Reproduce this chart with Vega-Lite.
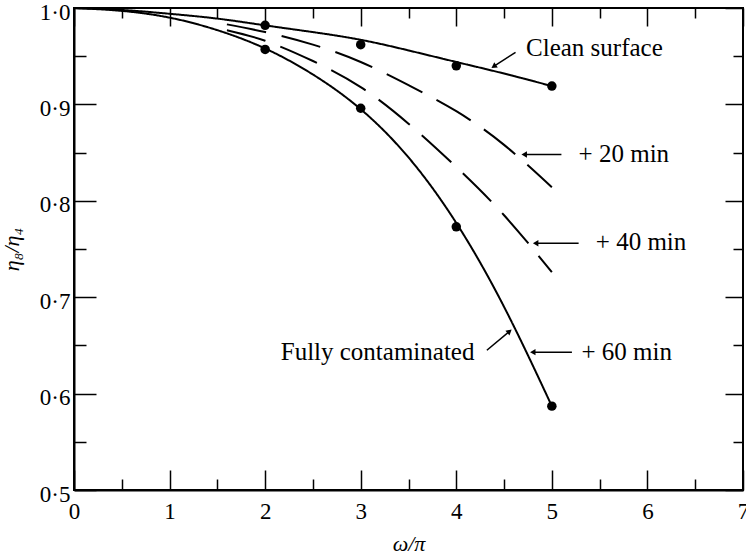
{
  "$schema": "https://vega.github.io/schema/vega-lite/v6.json",
  "width": 669,
  "height": 482,
  "autosize": {"type": "none"},
  "padding": {"left": 74, "top": 8, "right": 3, "bottom": 67},
  "background": "white",
  "config": {
    "view": {"stroke": "black", "strokeWidth": 2},
    "font": "Liberation Serif",
    "axis": {"domainColor": "black", "domainWidth": 2, "tickColor": "black", "tickWidth": 1.5, "labelColor": "black", "labelFont": "Liberation Serif", "labelFontSize": 23, "titleFont": "Liberation Serif", "titleColor": "black", "titleFontWeight": "normal", "grid": false}
  },
  "datasets": {
    "curves": [
      {"series": "clean", "x": 0, "y": 1.0},
      {"series": "clean", "x": 0.5, "y": 0.998},
      {"series": "clean", "x": 1, "y": 0.994},
      {"series": "clean", "x": 1.5, "y": 0.989},
      {"series": "clean", "x": 2, "y": 0.982},
      {"series": "clean", "x": 2.5, "y": 0.975},
      {"series": "clean", "x": 3, "y": 0.967},
      {"series": "clean", "x": 3.5, "y": 0.956},
      {"series": "clean", "x": 4, "y": 0.944},
      {"series": "clean", "x": 4.5, "y": 0.932},
      {"series": "clean", "x": 5, "y": 0.919},
      {"series": "m20", "x": 1.6, "y": 0.983},
      {"series": "m20", "x": 2, "y": 0.975},
      {"series": "m20", "x": 2.5, "y": 0.962},
      {"series": "m20", "x": 3, "y": 0.944},
      {"series": "m20", "x": 3.5, "y": 0.92},
      {"series": "m20", "x": 4, "y": 0.893},
      {"series": "m20", "x": 4.5, "y": 0.858},
      {"series": "m20", "x": 5, "y": 0.814},
      {"series": "m40", "x": 1.6, "y": 0.977},
      {"series": "m40", "x": 2, "y": 0.966},
      {"series": "m40", "x": 2.5, "y": 0.945},
      {"series": "m40", "x": 3, "y": 0.918},
      {"series": "m40", "x": 3.5, "y": 0.88},
      {"series": "m40", "x": 4, "y": 0.835},
      {"series": "m40", "x": 4.5, "y": 0.785},
      {"series": "m40", "x": 5, "y": 0.726},
      {"series": "full", "x": 0, "y": 1.0},
      {"series": "full", "x": 0.5, "y": 0.997},
      {"series": "full", "x": 1, "y": 0.99},
      {"series": "full", "x": 1.5, "y": 0.977},
      {"series": "full", "x": 2, "y": 0.958},
      {"series": "full", "x": 2.5, "y": 0.931},
      {"series": "full", "x": 3, "y": 0.895},
      {"series": "full", "x": 3.5, "y": 0.845},
      {"series": "full", "x": 4, "y": 0.777},
      {"series": "full", "x": 4.5, "y": 0.69},
      {"series": "full", "x": 5, "y": 0.587}
    ],
    "dots": [
      {"x": 2, "y": 0.982},
      {"x": 3, "y": 0.962},
      {"x": 4, "y": 0.94},
      {"x": 5, "y": 0.919},
      {"x": 2, "y": 0.957},
      {"x": 3, "y": 0.896},
      {"x": 4, "y": 0.773},
      {"x": 5, "y": 0.587}
    ],
    "arrows": [
      {"x": 4.62, "y": 0.954, "x2": 4.40, "y2": 0.940},
      {"x": 5.10, "y": 0.848, "x2": 4.72, "y2": 0.848},
      {"x": 5.28, "y": 0.756, "x2": 4.84, "y2": 0.756},
      {"x": 5.21, "y": 0.643, "x2": 4.81, "y2": 0.643},
      {"x": 4.32, "y": 0.645, "x2": 4.55, "y2": 0.664}
    ],
    "heads": [
      {"x": 4.40, "y": 0.940, "angle": 236},
      {"x": 4.72, "y": 0.848, "angle": 270},
      {"x": 4.84, "y": 0.756, "angle": 270},
      {"x": 4.81, "y": 0.643, "angle": 270},
      {"x": 4.55, "y": 0.664, "angle": 50}
    ],
    "labelsLeft": [
      {"x": 4.73, "y": 0.958, "text": "Clean surface"},
      {"x": 5.28, "y": 0.849, "text": "+ 20 min"},
      {"x": 5.46, "y": 0.757, "text": "+ 40 min"},
      {"x": 5.31, "y": 0.643, "text": "+ 60 min"}
    ],
    "labelsRight": [
      {"x": 4.19, "y": 0.643, "text": "Fully contaminated"}
    ]
  },
  "resolve": {"axis": {"x": "independent", "y": "independent"}},
  "layer": [
    {
      "data": {"name": "curves"},
      "mark": {"type": "line", "interpolate": "natural", "strokeWidth": 2, "color": "black", "clip": true},
      "encoding": {
        "x": {"field": "x", "type": "quantitative", "scale": {"domain": [0, 7], "nice": false, "zero": false},
          "axis": {"orient": "bottom", "values": [0,0.5,1,1.5,2,2.5,3,3.5,4,4.5,5,5.5,6,6.5,7], "format": ".0f",
            "labelExpr": "datum.value % 1 === 0 ? format(datum.value, 'd') : ''",
            "tickSize": {"condition": {"test": "datum.value % 1 === 0", "value": -20}, "value": -11},
            "labelPadding": 30, "labelFlush": false,
            "title": "ω/π", "titleFontStyle": "italic", "titleFontSize": 22, "titlePadding": 10}},
        "y": {"field": "y", "type": "quantitative", "scale": {"domain": [0.5, 1.0], "nice": false, "zero": false},
          "axis": {"orient": "left", "values": [0.5,0.55,0.6,0.65,0.7,0.75,0.8,0.85,0.9,0.95,1.0],
            "labelExpr": "round(datum.value*100) % 10 === 0 ? replace(format(datum.value, '.1f'), '.', '·') : ''",
            "tickSize": {"condition": {"test": "round(datum.value*100) % 10 === 0", "value": -22}, "value": -12},
            "labelPadding": 26, "labelFlush": false, "labelOffset": 4,
            "title": "η₈/η₄", "titleFontStyle": "italic", "titleFontSize": 22, "titlePadding": 16}},
        "detail": {"field": "series"},
        "strokeDash": {"field": "series", "type": "nominal", "scale": {"domain": ["clean", "m20", "m40", "full"], "range": [[1, 0], [40, 16], [40, 16], [1, 0]]}, "legend": null}
      }
    },
    {
      "data": {"name": "dots"},
      "mark": {"type": "point", "filled": true, "color": "black", "size": 90, "opacity": 1},
      "encoding": {
        "x": {"field": "x", "type": "quantitative",
          "axis": {"orient": "top", "values": [0,0.5,1,1.5,2,2.5,3,3.5,4,4.5,5,5.5,6,6.5,7], "labels": false, "title": null, "domain": false,
            "tickSize": {"condition": {"test": "datum.value % 1 === 0", "value": -18}, "value": -10}}},
        "y": {"field": "y", "type": "quantitative",
          "axis": {"orient": "right", "values": [0.5,0.55,0.6,0.65,0.7,0.75,0.8,0.85,0.9,0.95,1.0], "labels": false, "title": null, "domain": false,
            "tickSize": {"condition": {"test": "round(datum.value*100) % 10 === 0", "value": -18}, "value": -10}}}
      }
    },
    {
      "data": {"name": "arrows"},
      "mark": {"type": "rule", "color": "black", "strokeWidth": 1.5},
      "encoding": {
        "x": {"field": "x", "type": "quantitative", "axis": null},
        "y": {"field": "y", "type": "quantitative", "axis": null},
        "x2": {"field": "x2"},
        "y2": {"field": "y2"}
      }
    },
    {
      "data": {"name": "heads"},
      "mark": {"type": "point", "shape": "triangle", "filled": true, "color": "black", "size": 40, "opacity": 1},
      "encoding": {
        "x": {"field": "x", "type": "quantitative", "axis": null},
        "y": {"field": "y", "type": "quantitative", "axis": null},
        "angle": {"field": "angle", "type": "quantitative", "scale": null}
      }
    },
    {
      "data": {"name": "labelsLeft"},
      "mark": {"type": "text", "font": "Liberation Serif", "fontSize": 25, "color": "black", "baseline": "middle", "align": "left"},
      "encoding": {
        "x": {"field": "x", "type": "quantitative", "axis": null},
        "y": {"field": "y", "type": "quantitative", "axis": null},
        "text": {"field": "text"}
      }
    },
    {
      "data": {"name": "labelsRight"},
      "mark": {"type": "text", "font": "Liberation Serif", "fontSize": 25, "color": "black", "baseline": "middle", "align": "right"},
      "encoding": {
        "x": {"field": "x", "type": "quantitative", "axis": null},
        "y": {"field": "y", "type": "quantitative", "axis": null},
        "text": {"field": "text"}
      }
    }
  ]
}
